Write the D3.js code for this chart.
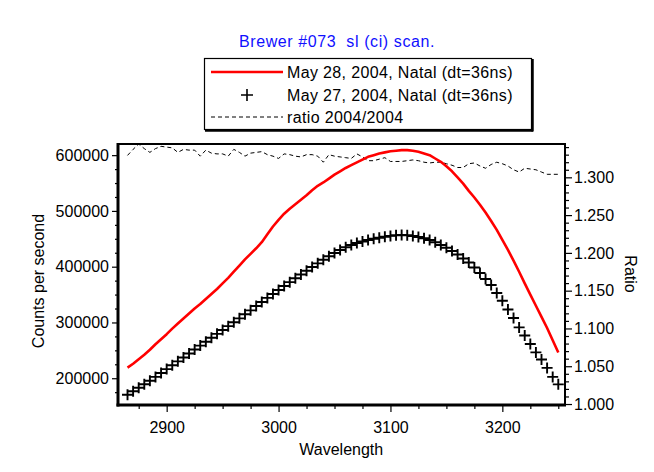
<!DOCTYPE html>
<html>
<head>
<meta charset="utf-8">
<script src="https://cdn.jsdelivr.net/npm/d3@7"></script>
<style>
  html, body { margin: 0; padding: 0; background: #fff; }
  svg { display: block; font-family: "Liberation Sans", Arial, sans-serif; }
</style>
</head>
<body>
<svg id="chart" width="654" height="472"></svg>
<script>
// Brewer #073 standard-lamp (sl) scan, counts per second against wavelength
const wavelengths = [
  2865, 2870, 2875, 2880, 2885, 2890, 2895, 2900, 2905, 2910,
  2915, 2920, 2925, 2930, 2935, 2940, 2945, 2950, 2955, 2960,
  2965, 2970, 2975, 2980, 2985, 2990, 2995, 3000, 3005, 3010,
  3015, 3020, 3025, 3030, 3035, 3040, 3045, 3050, 3055, 3060,
  3065, 3070, 3075, 3080, 3085, 3090, 3095, 3100, 3105, 3110,
  3115, 3120, 3125, 3130, 3135, 3140, 3145, 3150, 3155, 3160,
  3165, 3170, 3175, 3180, 3185, 3190, 3195, 3200, 3205, 3210,
  3215, 3220, 3225, 3230, 3235, 3240, 3245, 3250
];

const countsMay28 = [
  219000, 226000, 234000, 242000, 251000, 261000, 270000, 279000, 289000, 298000,
  307000, 316000, 325000, 333000, 342000, 351000, 360000, 370000, 380000, 391000,
  402000, 413000, 423000, 433000, 444000, 458000, 472000, 484000, 495000, 504000,
  512000, 520000, 528000, 537000, 545000, 551000, 558000, 565000, 571000, 577000,
  582000, 587000, 592000, 597000, 600000, 603000, 605000, 607000, 608000, 609000,
  609000, 608000, 606000, 603000, 600000, 594000, 588000, 580000, 571000, 560000,
  549000, 536000, 524000, 511000, 497000, 482000, 466000, 448000, 430000, 411000,
  391000, 370000, 350000, 330000, 310000, 290000, 268000, 246000
];

const countsMay27 = [
  170300, 176600, 182800, 189100, 195600, 202400, 209400, 216400, 223300, 230300,
  237300, 244300, 251500, 258500, 265500, 272500, 279600, 286600, 293400, 300400,
  307400, 314600, 321700, 329600, 336800, 344000, 351100, 358300, 365500, 372300,
  379300, 385900, 392700, 399500, 406000, 412400, 418700, 424600, 430000, 434800,
  438900, 442500, 445200, 447900, 450000, 452000, 453800, 455200, 456300, 456900,
  456500, 455100, 453300, 450900, 447900, 443800, 439000, 434000, 428200, 421900,
  414700, 407600, 398600, 388800, 378000, 367300, 352900, 338900, 323300, 308100,
  291100, 276700, 261500, 246300, 233700, 218500, 202400, 189000
];

const ratio = [
  1.329, 1.337, 1.344, 1.338, 1.333, 1.338, 1.341, 1.340, 1.339, 1.333,
  1.337, 1.336, 1.336, 1.328, 1.336, 1.332, 1.331, 1.331, 1.328, 1.337,
  1.333, 1.328, 1.332, 1.333, 1.334, 1.330, 1.328, 1.325, 1.331, 1.330,
  1.328, 1.327, 1.330, 1.330, 1.328, 1.320, 1.330, 1.328, 1.327, 1.326,
  1.325, 1.331, 1.327, 1.322, 1.322, 1.324, 1.326, 1.321, 1.321, 1.321,
  1.322, 1.323, 1.322, 1.320, 1.319, 1.320, 1.320, 1.318, 1.316, 1.313,
  1.313, 1.318, 1.319, 1.315, 1.312, 1.317, 1.320, 1.318, 1.315, 1.310,
  1.307, 1.312, 1.311, 1.310, 1.307, 1.304, 1.304, 1.304
];

const wavelengthTicks = [2900, 3000, 3100, 3200];
const wavelengthMinorTicks = [2875, 2925, 2950, 2975, 3025, 3050, 3075, 3125, 3150, 3175, 3225, 3250];
const countTicks = [200000, 300000, 400000, 500000, 600000];
const countMinorTicks = [175000, 225000, 250000, 275000, 325000, 350000, 375000, 425000, 450000, 475000, 525000, 550000, 575000];
const ratioTicks = [1.000, 1.050, 1.100, 1.150, 1.200, 1.250, 1.300];
const ratioMinorTicks = [1.01, 1.02, 1.03, 1.04, 1.06, 1.07, 1.08, 1.09, 1.11, 1.12, 1.13, 1.14,
  1.16, 1.17, 1.18, 1.19, 1.21, 1.22, 1.23, 1.24, 1.26, 1.27, 1.28, 1.29, 1.31, 1.32, 1.33, 1.34];

const chartTitle = "Brewer #073  sl (ci) scan.";
const legendLabels = [
  "May 28, 2004, Natal (dt=36ns)",
  "May 27, 2004, Natal (dt=36ns)",
  "ratio 2004/2004"
];
const xTitle = "Wavelength";
const yLeftTitle = "Counts per second";
const yRightTitle = "Ratio";

// ---- layout ----
const plot = { left: 118, right: 565, top: 144, bottom: 405 };
const svg = d3.select("#chart");
const FONT = 16;

const x = d3.scaleLinear().domain([2856.5, 3256]).range([plot.left, plot.right]);
const yCounts = d3.scaleLinear().domain([152000, 620000]).range([plot.bottom, plot.top]);
const yRatio = d3.scaleLinear().domain([0.9987, 1.3441]).range([plot.bottom, plot.top]);

// title
svg.append("text")
  .attr("x", 337).attr("y", 47)
  .attr("text-anchor", "middle")
  .attr("fill", "#1010ff")
  .style("font-size", FONT + "px")
  .style("white-space", "pre")
  .style("letter-spacing", "0.6px")
  .text(chartTitle);

// ---- axes ----
function styleAxis(g) {
  g.select(".domain").remove();
  g.selectAll(".tick line").attr("stroke", "#000").attr("stroke-width", 1.2);
  g.selectAll(".tick text").attr("fill", "#000").style("font-size", FONT + "px")
    .style("font-family", "'Liberation Sans', Arial, sans-serif");
}

// bottom
svg.append("g").attr("transform", `translate(0,${plot.bottom})`)
  .call(d3.axisBottom(x).tickValues(wavelengthMinorTicks).tickSize(4).tickFormat(""))
  .call(styleAxis);
svg.append("g").attr("transform", `translate(0,${plot.bottom})`)
  .call(d3.axisBottom(x).tickValues(wavelengthTicks).tickSize(7).tickPadding(10).tickFormat(d3.format("d")))
  .call(styleAxis);

// left
svg.append("g").attr("transform", `translate(${plot.left},0)`)
  .call(d3.axisLeft(yCounts).tickValues(countMinorTicks).tickSize(3).tickFormat(""))
  .call(styleAxis);
svg.append("g").attr("transform", `translate(${plot.left},0)`)
  .call(d3.axisLeft(yCounts).tickValues(countTicks).tickSize(6).tickPadding(3).tickFormat(d3.format("d")))
  .call(styleAxis);

// right
svg.append("g").attr("transform", `translate(${plot.right},0)`)
  .call(d3.axisRight(yRatio).tickValues(ratioMinorTicks).tickSize(4).tickFormat(""))
  .call(styleAxis);
svg.append("g").attr("transform", `translate(${plot.right},0)`)
  .call(d3.axisRight(yRatio).tickValues(ratioTicks).tickSize(7).tickPadding(2).tickFormat(d3.format(".3f")))
  .call(styleAxis);

// axis titles
svg.append("text")
  .attr("transform", `translate(${x(3056)},455)`)
  .attr("text-anchor", "middle").style("font-size", FONT + "px")
  .text(xTitle);
svg.append("text")
  .attr("transform", "translate(44,281) rotate(-90)")
  .attr("text-anchor", "middle").style("font-size", FONT + "px")
  .text(yLeftTitle);
svg.append("text")
  .attr("transform", "translate(625,274) rotate(90)")
  .attr("text-anchor", "middle").style("font-size", FONT + "px")
  .text(yRightTitle);

// ---- series ----
const idx = d3.range(wavelengths.length);

// ratio (dashed)
svg.append("path")
  .datum(idx)
  .attr("fill", "none")
  .attr("stroke", "#000")
  .attr("stroke-width", 1)
  .attr("stroke-dasharray", "4,3")
  .attr("d", d3.line().x(i => x(wavelengths[i])).y(i => yRatio(ratio[i])));

// May 28 (red line)
svg.append("path")
  .datum(idx)
  .attr("fill", "none")
  .attr("stroke", "#ff0000")
  .attr("stroke-width", 2.6)
  .attr("stroke-linejoin", "round")
  .attr("d", d3.line().x(i => x(wavelengths[i])).y(i => yCounts(countsMay28[i])));

// May 27 (plus markers)
const plusPath = s => `M${-s},0H${s}M0,${-s}V${s}`;
svg.append("g").selectAll("path")
  .data(idx)
  .join("path")
  .attr("transform", i => `translate(${x(wavelengths[i])},${yCounts(countsMay27[i])})`)
  .attr("d", plusPath(5.5))
  .attr("stroke", "#000")
  .attr("stroke-width", 1.9)
  .attr("fill", "none");

// ---- plot frame ----
const frame = svg.append("g").attr("stroke", "#000").attr("fill", "none");
frame.append("line").attr("x1", plot.left).attr("x2", plot.right + 1)
  .attr("y1", plot.top).attr("y2", plot.top).attr("stroke-width", 2);
frame.append("line").attr("x1", plot.right).attr("x2", plot.right)
  .attr("y1", plot.top).attr("y2", plot.bottom).attr("stroke-width", 2);
frame.append("line").attr("x1", plot.left).attr("x2", plot.left)
  .attr("y1", plot.top - 1).attr("y2", plot.bottom + 1.5).attr("stroke-width", 3);
frame.append("line").attr("x1", plot.left - 1.5).attr("x2", plot.right + 1)
  .attr("y1", plot.bottom).attr("y2", plot.bottom).attr("stroke-width", 3);

// ---- legend ----
const lg = { left: 204, top: 58, right: 531, bottom: 129 };
const legend = svg.append("g");
legend.append("rect")
  .attr("x", lg.left + 0.5).attr("y", lg.top + 0.5)
  .attr("width", lg.right - lg.left).attr("height", lg.bottom - lg.top)
  .attr("fill", "#fff").attr("stroke", "#000").attr("stroke-width", 1.2);
legend.append("line").attr("x1", lg.left + 1).attr("x2", lg.right + 2)
  .attr("y1", lg.bottom + 1.5).attr("y2", lg.bottom + 1.5).attr("stroke", "#000").attr("stroke-width", 2.5);
legend.append("line").attr("x1", lg.right + 1.5).attr("x2", lg.right + 1.5)
  .attr("y1", lg.top + 1).attr("y2", lg.bottom + 2.5).attr("stroke", "#000").attr("stroke-width", 2.5);

const rowY = [72, 95, 117];
const symX0 = 211, symX1 = 283, textX = 287;

legend.append("line").attr("x1", symX0).attr("x2", symX1).attr("y1", rowY[0]).attr("y2", rowY[0])
  .attr("stroke", "#ff0000").attr("stroke-width", 2.6);
legend.append("path").attr("transform", `translate(${(symX0 + symX1) / 2},${rowY[1]})`)
  .attr("d", plusPath(6)).attr("stroke", "#000").attr("stroke-width", 1.6);
legend.append("line").attr("x1", symX0).attr("x2", symX1).attr("y1", rowY[2]).attr("y2", rowY[2])
  .attr("stroke", "#000").attr("stroke-width", 1).attr("stroke-dasharray", "4,3");

legend.selectAll("text.lab")
  .data(legendLabels)
  .join("text")
  .attr("class", "lab")
  .attr("x", textX)
  .attr("y", (d, i) => rowY[i] + 6)
  .style("font-size", FONT + "px")
  .style("letter-spacing", "0.35px")
  .text(d => d);
</script>
</body>
</html>
